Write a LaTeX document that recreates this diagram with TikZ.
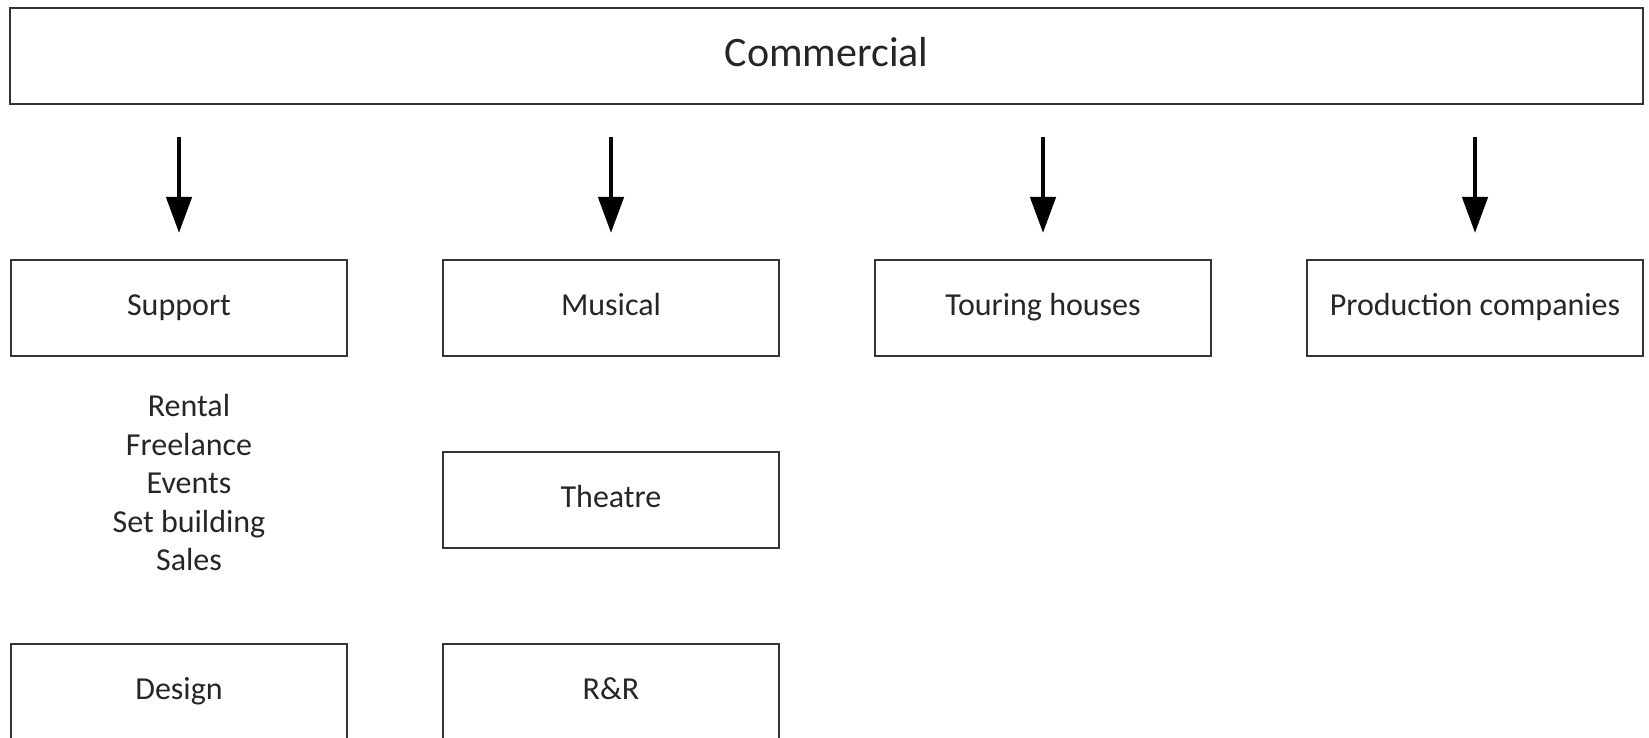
\documentclass[tikz,border=0pt]{standalone}
\usepackage{fontspec}
\setmainfont{Carlito}
\usetikzlibrary{arrows.meta}

\tikzset{
  box/.style={draw=black!80, line width=1.8pt, minimum width=336pt,
    minimum height=96pt, inner sep=0pt, text=black!85,
    text height=22pt, text depth=6pt,
    font=\fontsize{32}{38.5}\selectfont},
  arr/.style={line width=4.5pt, -{Triangle[width=25pt, length=36pt]}},
}

\begin{document}
\begin{tikzpicture}[x=1pt, y=1pt]
    \useasboundingbox (0,0) rectangle (1649,738);

    \node[box, minimum width=1633pt, text height=29pt, text depth=8pt,
      font=\fontsize{42}{50}\selectfont] (commercial) at (826.5, 682) {Commercial};

    \coordinate (A1) at (179, 601);
    \coordinate (B1) at (179, 505);
    \coordinate (A2) at (611, 601);
    \coordinate (B2) at (611, 505);
    \coordinate (A3) at (1043, 601);
    \coordinate (B3) at (1043, 505);
    \coordinate (A4) at (1475, 601);
    \coordinate (B4) at (1475, 505);

    \draw[arr] (A1) -- (B1);
    \draw[arr] (A2) -- (B2);
    \draw[arr] (A3) -- (B3);
    \draw[arr] (A4) -- (B4);

    \node[box] (support) at (179, 430) {Support};
    \node[box] (musical) at (611, 430) {Musical};
    \node[box] (touring) at (1043, 430) {Touring houses};
    \node[box] (production) at (1475, 430) {Production companies};

    \node[align=center, text=black!85, font=\fontsize{32}{38.5}\selectfont] (supportlist) at (189, 255)
      {Rental\\Freelance\\Events\\Set building\\Sales};

    \node[box] (theatre) at (611, 238) {Theatre};
    \node[box] (design) at (179, 46) {Design};
    \node[box] (rr) at (611, 46) {R\&R};
  \end{tikzpicture}
\end{document}
